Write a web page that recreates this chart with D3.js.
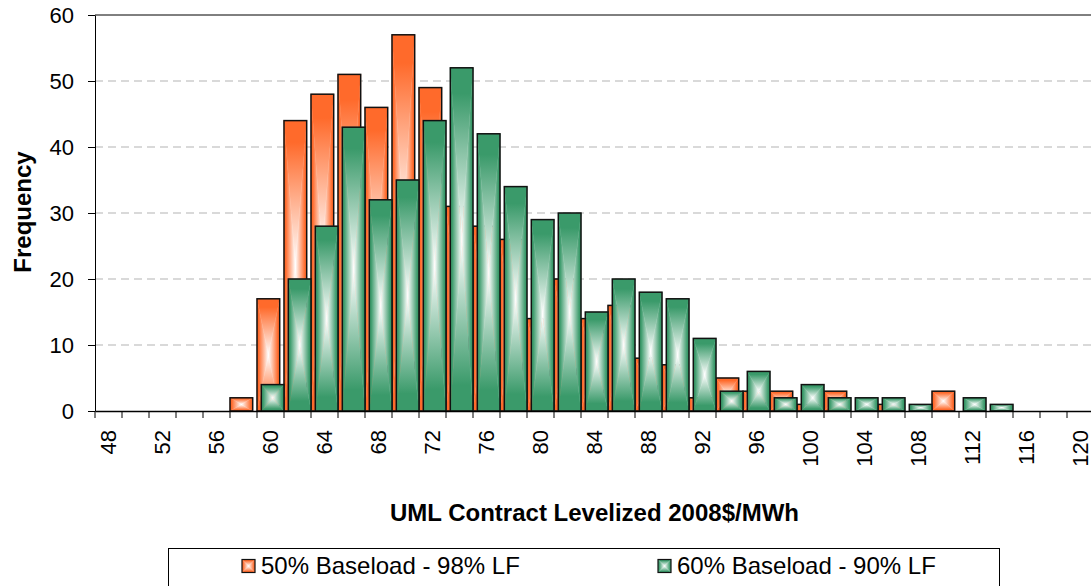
<!DOCTYPE html>
<meta charset="utf-8" />
<style>
  body {
    margin: 0;
    background: #fff;
  }
  text {
    font-family: "Liberation Sans", Arial, sans-serif;
    fill: #000;
  }
  .tick text {
    font-size: 22px;
  }
  .axis-title {
    font-size: 24px;
    font-weight: bold;
  }
  .legend text {
    font-size: 24px;
  }
</style>
<svg width="1091" height="586"></svg>
<script src="https://d3js.org/d3.v7.min.js"></script>
<script>
  // bins of the levelized contract price, $/MWh
  var categories = ["48", "50", "52", "54", "56", "58", "60", "62", "64", "66", "68", "70", "72",
    "74", "76", "78", "80", "82", "84", "86", "88", "90", "92", "94", "96", "98", "100",
    "102", "104", "106", "108", "110", "112", "114", "116", "118", "120"];

  var base50 = [0, 0, 0, 0, 0, 2, 17, 44, 48, 51, 46, 57, 49,
    31, 28, 26, 14, 20, 14, 16, 8, 7, 2, 5, 3, 3, 1,
    3, 0, 1, 0, 3, 0, 0, 0, 0, 0];

  var base60 = [0, 0, 0, 0, 0, 0, 4, 20, 28, 43, 32, 35, 44,
    52, 42, 34, 29, 30, 15, 20, 18, 17, 11, 3, 6, 2, 4,
    2, 2, 2, 1, 0, 2, 1, 0, 0, 0];

  var xTickLabels = ["48", "52", "56", "60", "64", "68", "72", "76", "80", "84", "88", "92",
    "96", "100", "104", "108", "112", "116", "120"];
  var yTicks = [0, 10, 20, 30, 40, 50, 60];

  var seriesNames = ["50% Baseload - 98% LF", "60% Baseload - 90% LF"];
  var seriesColors = ["#ff6a2b", "#3a9a6a"];

  var svg = d3.select("svg");
  var plotLeft = 95, plotRight = 1094, plotTop = 15, plotBottom = 411;

  var x = d3.scaleBand().domain(categories).range([plotLeft, plotRight]).padding(0);
  var y = d3.scaleLinear().domain([0, 60]).range([plotBottom, plotTop]);
  var bw = x.bandwidth() * 0.84;

  // "from center" gradients: four triangles per bar, each fading to white
  var defs = svg.append("defs");
  var sides = {
    top: [0, 0, 0, 1],
    bottom: [0, 1, 0, 0],
    left: [0, 0, 1, 0],
    right: [1, 0, 0, 0]
  };
  seriesColors.forEach(function(c, i) {
    Object.keys(sides).forEach(function(s) {
      var v = sides[s];
      var lg = defs.append("linearGradient")
        .attr("id", "g" + i + s)
        .attr("x1", v[0]).attr("y1", v[1]).attr("x2", v[2]).attr("y2", v[3]);
      lg.append("stop").attr("offset", 0).attr("stop-color", c);
      lg.append("stop").attr("offset", 0.15).attr("stop-color", c);
      lg.append("stop").attr("offset", 1).attr("stop-color", "#fff");
    });
  });

  function triangles(x0, y0, w, h) {
    var x1 = x0 + w, y1 = y0 + h, cx = x0 + w / 2, cy = y0 + h / 2;
    return [
      { side: "top", d: "M" + x0 + "," + y0 + "L" + x1 + "," + y0 + "L" + cx + "," + cy + "Z" },
      { side: "bottom", d: "M" + x0 + "," + y1 + "L" + x1 + "," + y1 + "L" + cx + "," + cy + "Z" },
      { side: "left", d: "M" + x0 + "," + y0 + "L" + x0 + "," + y1 + "L" + cx + "," + cy + "Z" },
      { side: "right", d: "M" + x1 + "," + y0 + "L" + x1 + "," + y1 + "L" + cx + "," + cy + "Z" }
    ];
  }

  // gridlines
  svg.append("g")
    .selectAll("line")
    .data(yTicks.filter(function(t) { return t > 0 && t < 60; }))
    .join("line")
    .attr("x1", plotLeft).attr("x2", plotRight)
    .attr("y1", function(d) { return y(d); }).attr("y2", function(d) { return y(d); })
    .attr("stroke", "#b3b3b3")
    .attr("stroke-width", 1)
    .attr("stroke-dasharray", "8,5");

  svg.append("line")
    .attr("x1", plotLeft).attr("x2", plotRight)
    .attr("y1", y(60)).attr("y2", y(60))
    .attr("stroke", "#000");

  // bars
  [base50, base60].forEach(function(vals, si) {
    var data = categories.map(function(c, i) { return { c: c, v: vals[i] }; })
      .filter(function(d) { return d.v > 0; });
    var off = si === 0 ? 0 : x.bandwidth() - bw;
    var g = svg.append("g").selectAll("g")
      .data(data)
      .join("g");
    g.selectAll("path")
      .data(function(d) { return triangles(x(d.c) + off, y(d.v), bw, y(0) - y(d.v)); })
      .join("path")
      .attr("d", function(t) { return t.d; })
      .attr("fill", function(t) { return "url(#g" + si + t.side + ")"; })
      .attr("stroke", function(t) { return "url(#g" + si + t.side + ")"; })
      .attr("stroke-width", 0.4);
    g.append("rect")
      .attr("x", function(d) { return x(d.c) + off; })
      .attr("y", function(d) { return y(d.v); })
      .attr("width", bw)
      .attr("height", function(d) { return y(0) - y(d.v); })
      .attr("fill", "none")
      .attr("stroke", "#111")
      .attr("stroke-width", 1.5);
  });

  // y axis
  var yAxis = svg.append("g")
    .attr("transform", "translate(" + plotLeft + ",0)")
    .call(d3.axisLeft(y).tickValues(yTicks).tickSize(7).tickPadding(14).tickSizeOuter(0));
  yAxis.select(".domain").attr("stroke", "#000");
  yAxis.selectAll(".tick line").attr("stroke", "#000");

  // x axis: labels at every other bin, tick marks between bins
  var xAxis = svg.append("g")
    .attr("transform", "translate(0," + plotBottom + ")")
    .call(d3.axisBottom(x).tickValues(xTickLabels).tickSize(0).tickSizeOuter(0));
  xAxis.select(".domain").attr("stroke", "#000").attr("stroke-width", 1.5);
  xAxis.selectAll(".tick text")
    .attr("transform", "rotate(-90)")
    .attr("text-anchor", "end")
    .attr("x", -19)
    .attr("y", 0)
    .attr("dy", "0.35em");

  svg.append("g")
    .selectAll("line")
    .data(categories)
    .join("line")
    .attr("x1", function(d) { return x(d); }).attr("x2", function(d) { return x(d); })
    .attr("y1", plotBottom).attr("y2", plotBottom + 7)
    .attr("stroke", "#000");

  // axis titles
  svg.append("text")
    .attr("class", "axis-title")
    .attr("x", (plotLeft + plotRight) / 2)
    .attr("y", 521)
    .attr("text-anchor", "middle")
    .text("UML Contract Levelized 2008$/MWh");

  svg.append("text")
    .attr("class", "axis-title")
    .attr("transform", "translate(31,212) rotate(-90)")
    .attr("text-anchor", "middle")
    .text("Frequency");

  // legend
  var legend = svg.append("g").attr("class", "legend");
  legend.append("rect")
    .attr("x", 168.5).attr("y", 548.5)
    .attr("width", 831).attr("height", 60)
    .attr("fill", "#fff")
    .attr("stroke", "#000");

  var items = legend.selectAll(".item")
    .data(seriesNames)
    .join("g")
    .attr("class", "item")
    .attr("transform", function(d, i) { return "translate(" + (i === 0 ? 242 : 658) + ",0)"; });

  items.each(function(d, i) {
    var it = d3.select(this);
    it.selectAll("path")
      .data(triangles(0, 559.5, 13, 13))
      .join("path")
      .attr("d", function(t) { return t.d; })
      .attr("fill", function(t) { return "url(#g" + i + t.side + ")"; });
    it.append("rect")
      .attr("x", 0).attr("y", 559.5).attr("width", 13).attr("height", 13)
      .attr("fill", "none").attr("stroke", "#111").attr("stroke-width", 1.2);
    it.append("text")
      .attr("x", 19).attr("y", 574)
      .text(d);
  });
</script>
